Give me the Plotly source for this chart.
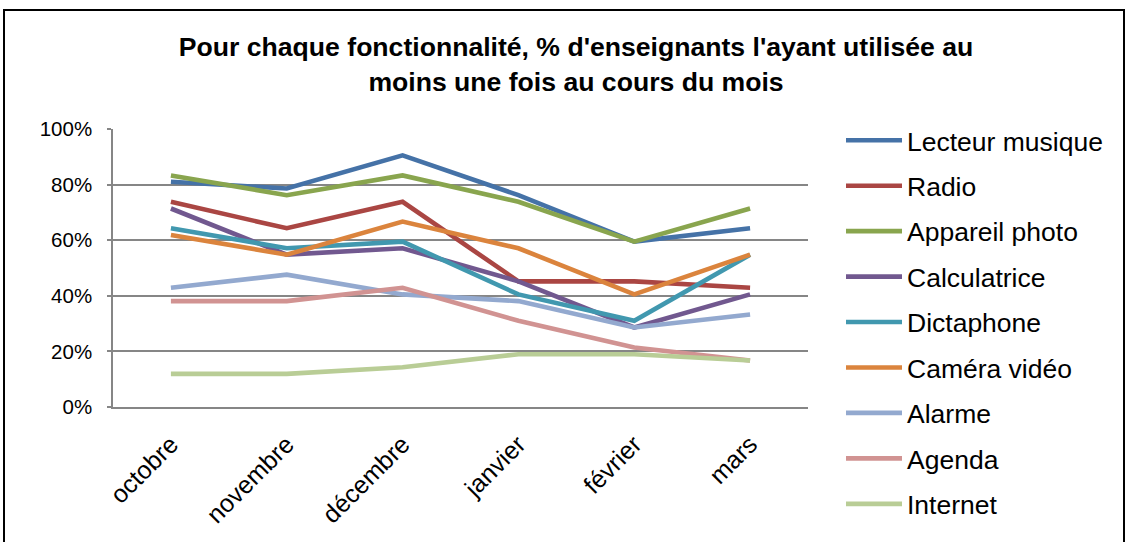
import plotly.graph_objects as go

months = ["octobre", "novembre", "décembre", "janvier", "février", "mars"]

lecteur_musique = [81.0, 78.6, 90.5, 76.2, 59.5, 64.3]
radio = [73.8, 64.3, 73.8, 45.2, 45.2, 42.9]
appareil_photo = [83.3, 76.2, 83.3, 73.8, 59.5, 71.4]
calculatrice = [71.4, 54.8, 57.1, 45.2, 28.6, 40.5]
dictaphone = [64.3, 57.1, 59.5, 40.5, 31.0, 54.8]
camera_video = [61.9, 54.8, 66.7, 57.1, 40.5, 54.8]
alarme = [42.9, 47.6, 40.5, 38.1, 28.6, 33.3]
agenda = [38.1, 38.1, 42.9, 31.0, 21.4, 16.7]
internet = [11.9, 11.9, 14.3, 19.0, 19.0, 16.7]

series_names = ["Lecteur musique", "Radio", "Appareil photo", "Calculatrice",
                "Dictaphone", "Caméra vidéo", "Alarme", "Agenda", "Internet"]
series_values = [lecteur_musique, radio, appareil_photo, calculatrice,
                 dictaphone, camera_video, alarme, agenda, internet]
colors = ["#4572A7", "#AA4643", "#89A54E", "#71588F", "#4198AF",
          "#DB843D", "#93A9CF", "#D19392", "#B9CD96"]

y_ticks = [0, 20, 40, 60, 80, 100]

FONT = "Liberation Sans, Arial, sans-serif"

fig = go.Figure()
for i, (name, vals, col) in enumerate(zip(series_names, series_values, colors)):
    fig.add_trace(go.Scatter(
        x=months, y=vals, name=name, mode="lines",
        line=dict(color=col, width=4.6),
        legendgroup=f"g{i}",
    ))

# plot area geometry (px)
L, R, T, B = 113, 808, 129, 407
W, H = 1129, 542
pw, ph = R - L, B - T

def px_x(px):
    return (px - L) / pw

def px_y(py):
    return (B - py) / ph

fig.update_layout(
    width=W, height=H,
    margin=dict(l=L, r=W - R, t=T, b=H - B, pad=0),
    paper_bgcolor="white",
    plot_bgcolor="white",
    font=dict(family=FONT, color="black", size=20),
    title=dict(
        text="Pour chaque fonctionnalité, % d'enseignants l'ayant utilisée au<br>moins une fois au cours du mois",
        font=dict(family=FONT, size=26.6, color="black", weight="bold"),
        x=576 / W, xref="container", xanchor="center",
        y=1 - 56 / H, yref="container", yanchor="middle",
    ),
    xaxis=dict(
        type="category",
        range=[-0.5, len(months) - 0.5],
        showgrid=False,
        showline=True, linecolor="#868686", linewidth=1.5,
        ticks="",
        tickangle=-45,
        tickfont=dict(family=FONT, size=25, color="black"),
        ticklabelstandoff=11,
        fixedrange=True,
    ),
    yaxis=dict(
        range=[0, 100],
        tickvals=y_ticks,
        ticktext=[f"{v}%" for v in y_ticks],
        showgrid=True, gridcolor="#868686", gridwidth=1.5,
        showline=True, linecolor="#868686", linewidth=1.5,
        ticks="outside", ticklen=4, tickcolor="#868686", tickwidth=1.5,
        tickfont=dict(family=FONT, size=20.5, color="black"),
        ticklabelstandoff=11,
        zeroline=False,
        fixedrange=True,
    ),
    legend=dict(
        x=px_x(841), xanchor="left",
        y=px_y(116.5), yanchor="top",
        font=dict(family=FONT, size=26.5, color="black"),
        bgcolor="rgba(0,0,0,0)",
        tracegroupgap=8,
        itemwidth=56,
        maxheight=520,
    ),
    shapes=[dict(
        type="rect", xref="paper", yref="paper",
        x0=px_x(4), x1=px_x(1124), y0=px_y(560), y1=px_y(10),
        line=dict(color="black", width=2), fillcolor="rgba(0,0,0,0)",
        layer="above",
    )],
    showlegend=True,
)

fig.write_html("out.html", config={"displayModeBar": False},
               post_script="document.body.style.margin='0px';")
